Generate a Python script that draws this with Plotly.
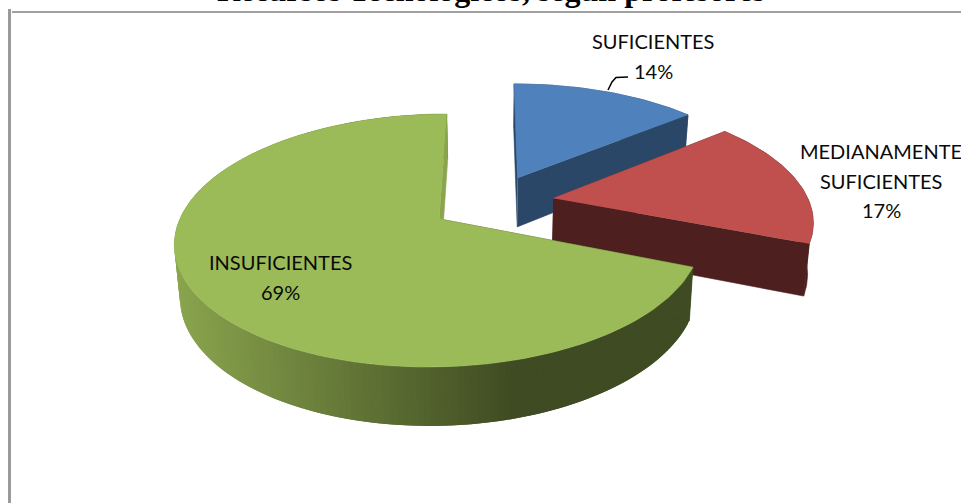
import numpy as np
import plotly.graph_objects as go

# ---- data ----
categories = ["SUFICIENTES", "MEDIANAMENTE SUFICIENTES", "INSUFICIENTES"]
values = [14, 17, 69]
top_colors = ["#4f81bd", "#c0504d", "#9bbb59"]
wall_colors = ["#2a4768", "#4d1f1f", None]
title_text = "Recursos Tecnológicos, según profesores"

# ---- 3D pie projection (pixel-space camera) ----
OX, OY, RX, RY = 492.0, 202.7, 260.0, 117.4
K, DEPTH, BOTTOM_W = 1 / 6, 51.0, 1.018
EXPLODE = 0.24
START = 90.0
X_SCALE = [0.985, 0.985, 0.975]


def project(X, Y, bottom=False):
    w = 1 + K * np.asarray(Y)
    if bottom:
        w = w * BOTTOM_W
        return OX + RX * np.asarray(X) / w, OY - (RY * np.asarray(Y) - DEPTH) / w
    return OX + RX * np.asarray(X) / w, OY - RY * np.asarray(Y) / w


def poly(xs, ys, color, lw=0.6):
    return go.Scatter(x=list(xs), y=list(ys), mode="lines", fill="toself",
                      fillcolor=color, line=dict(color=color, width=lw),
                      hoverinfo="skip", showlegend=False)


def lerp_green(px):
    t = np.clip((px - 175) / (515 - 175), 0, 1)
    a, b = np.array([138, 165, 78]), np.array([63, 75, 34])
    c = a + (b - a) * t
    return "rgb(%d,%d,%d)" % tuple(c)


fig = go.Figure()
total = sum(values)
a0 = START
for val, top, wall, sx in zip(values, top_colors, wall_colors, X_SCALE):
    sweep = 360.0 * val / total
    a1 = a0 - sweep
    mid = np.radians((a0 + a1) / 2)
    cx, cy = EXPLODE * np.cos(mid), EXPLODE * np.sin(mid)
    th = np.radians(np.linspace(a0, a1, max(8, int(sweep * 0.8))))
    X, Y = cx + sx * np.cos(th), cy + np.sin(th)
    xt, yt = project(X, Y)
    xb, yb = project(X, Y, bottom=True)
    tx, ty = project(cx, cy)
    bx, by = project(cx, cy, bottom=True)
    radial_first = "#3f4b22" if wall is None else wall
    radial_last = "#8aa54c" if wall is None else wall
    # outer wall
    if wall is None:
        for i in range(len(th) - 1):
            j = min(i + 2, len(th) - 1)   # overlap the next strip so no seams show
            col = lerp_green((xt[i] + xt[i + 1]) / 2)
            fig.add_trace(poly([xt[i], xt[j], xb[j], xb[i]],
                               [yt[i], yt[j], yb[j], yb[i]], col, lw=0))
    else:
        fig.add_trace(poly(list(xt) + list(xb[::-1]), list(yt) + list(yb[::-1]), wall))
    # radial walls
    fig.add_trace(poly([tx, xt[0], xb[0], bx], [ty, yt[0], yb[0], by], radial_first))
    fig.add_trace(poly([tx, xt[-1], xb[-1], bx], [ty, yt[-1], yb[-1], by], radial_last))
    # top face
    fig.add_trace(poly([tx] + list(xt), [ty] + list(yt), top))
    a0 = a1

# leader line for 14%
fig.add_trace(go.Scatter(x=[608, 612, 616, 628], y=[90, 82, 77.5, 77], mode="lines",
                         line=dict(color="black", width=1.5), hoverinfo="skip", showlegend=False))

# labels
label_lines = [("SUFICIENTES", 653, 41), ("14%", 653, 71),
               ("MEDIANAMENTE", 881, 151), ("SUFICIENTES", 881, 181), ("17%", 881, 210),
               ("INSUFICIENTES", 280, 262), ("69%", 280, 292)]
annots = [dict(x=x, y=y, xref="x", yref="y", text=t, showarrow=False,
               font=dict(family="Lato", size=20, color="#0a0a0a"),
               xanchor="center", yanchor="middle") for t, x, y in label_lines]
annots.append(dict(x=490.5 / 961, y=1, xref="paper", yref="paper", yshift=10,
                   text="<b>%s</b>" % title_text, showarrow=False,
                   font=dict(family="Liberation Serif", size=32, color="black"),
                   xanchor="center", yanchor="middle"))

frame = [dict(type="line", x0=12, x1=961, y0=12, y1=12, xref="x", yref="y",
              line=dict(color="#a0a0a0", width=2)),
         dict(type="line", x0=9.5, x1=9.5, y0=9, y1=503, xref="x", yref="y",
              line=dict(color="#9a9a9a", width=3))]

fig.update_layout(width=961, height=503, margin=dict(l=0, r=0, t=0, b=0),
                  paper_bgcolor="white", plot_bgcolor="white",
                  xaxis=dict(range=[0, 961], visible=False, fixedrange=True),
                  yaxis=dict(range=[503, 0], visible=False, fixedrange=True),
                  annotations=annots, shapes=frame, showlegend=False)
fig.write_html("out.html", config=dict(displayModeBar=False),
               post_script="document.body.style.margin='0';document.body.style.overflow='hidden';")
